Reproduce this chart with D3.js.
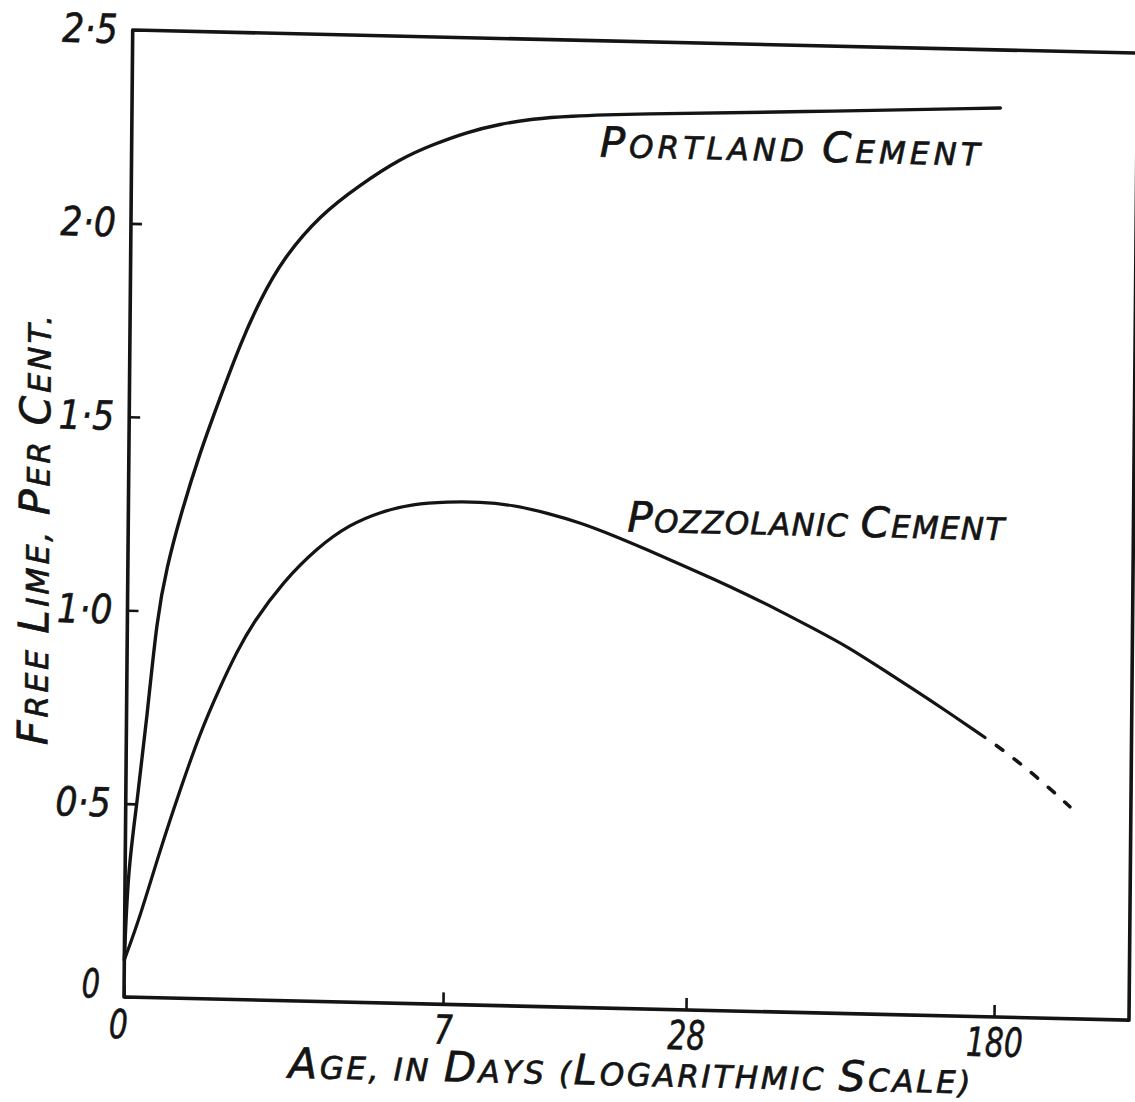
<!DOCTYPE html>
<html><head><meta charset="utf-8">
<script src="https://cdn.jsdelivr.net/npm/d3@7"></script>
<style>html,body{margin:0;padding:0;background:#fff;} svg{display:block;}</style>
</head><body>
<svg id="chart" width="1135" height="1102"></svg>
<script>
// ---------------- data ----------------
const ageTicks = [0, 7, 28, 180];
const limeTicks = [0, 0.5, 1.0, 1.5, 2.0, 2.5];
const limeTickLabels = ["0", "0·5", "1·0", "1·5", "2·0", "2·5"];

const portlandDays = [0, 0.019, 0.076, 0.143, 0.213, 0.29, 0.40, 0.59, 0.805, 1.05, 1.33, 1.70, 2.43, 3.44, 4.75, 6.13, 7.72, 9.38, 11.35, 13.8, 20.0, 53.4, 178];
const portlandLime = [0.096, 0.329, 0.502, 0.725, 0.985, 1.114, 1.244, 1.413, 1.554, 1.693, 1.810, 1.918, 2.033, 2.113, 2.183, 2.222, 2.256, 2.279, 2.294, 2.303, 2.313, 2.328, 2.350];

const pozzDays = [0, 0.105, 0.254, 0.423, 0.616, 0.836, 1.047, 1.268, 1.75, 2.43, 3.24, 4.16, 5.39, 7.0, 8.5, 10.3, 12.6, 15.2, 18.3, 22.1, 26.5, 32.3, 39.8, 48.6, 59.5, 74.1, 89.2, 108.9, 133.7, 168];
const pozzLime = [0.096, 0.208, 0.382, 0.538, 0.687, 0.807, 0.900, 0.975, 1.082, 1.173, 1.235, 1.269, 1.292, 1.299, 1.301, 1.295, 1.276, 1.253, 1.222, 1.187, 1.152, 1.116, 1.077, 1.037, 0.994, 0.946, 0.896, 0.843, 0.787, 0.722];

const pozzExtDays = [168, 187, 230, 280];
const pozzExtLime = [0.722, 0.691, 0.623, 0.548];

const seriesLabels = ["Portland Cement", "Pozzolanic Cement"];
const xTitle = "Age, in Days (Logarithmic Scale)";
const yTitle = "Free Lime, Per Cent.";

// ---------------- layout ----------------
const INK = "#141414";
const FONT = "'DejaVu Sans', 'Liberation Sans', sans-serif";
const svg = d3.select("#chart");

const x = d3.scaleSymlog().domain(ageTicks).range([124, 443, 686, 994]);
const y = d3.scaleLinear().domain([0, 2.5]).range([997, 30]);
const frameRight = 1129;

// slight skew, like the scanned page
const g = svg.append("g")
  .attr("transform", "translate(124,997) matrix(1,0.023,-0.009,1,0,0) translate(-124,-997)");

// frame
g.append("path")
  .attr("d", `M${x(0)},${y(0)} V${y(2.5)} H${frameRight} V${y(0)} Z`)
  .attr("fill", "none").attr("stroke", INK).attr("stroke-width", 3.6)
  .attr("stroke-linejoin", "round");

// x axis
const xAxis = d3.axisBottom(x).tickValues(ageTicks).tickSizeInner(-12).tickSizeOuter(0)
  .tickPadding(11).tickFormat(d3.format("d"));
const gx = g.append("g").attr("transform", `translate(0,${y(0)})`).call(xAxis);
gx.select(".domain").remove();
gx.selectAll(".tick line").attr("stroke", INK).attr("stroke-width", 2.6);
gx.selectAll(".tick text")
  .attr("fill", INK).attr("stroke", INK).attr("stroke-width", 0.6)
  .attr("font-family", FONT).attr("font-style", "italic").attr("font-size", 40)
  .attr("lengthAdjust", "spacingAndGlyphs")
  .attr("textLength", function () { return this.textContent.length * 19; })
  .attr("transform", d => d === 0 ? "translate(-6,2)" : null);

// y axis
const yAxis = d3.axisLeft(y).tickValues(limeTicks).tickSizeInner(-11).tickSizeOuter(0)
  .tickPadding(15).tickFormat((d, i) => limeTickLabels[i]);
const gy = g.append("g").attr("transform", `translate(${x(0)},0)`).call(yAxis);
gy.select(".domain").remove();
gy.selectAll(".tick line").attr("stroke", INK).attr("stroke-width", 2.6);
gy.selectAll(".tick text")
  .attr("fill", INK).attr("stroke", INK).attr("stroke-width", 0.6)
  .attr("font-family", FONT).attr("font-style", "italic").attr("font-size", 40)
  .attr("lengthAdjust", "spacingAndGlyphs")
  .attr("textLength", function () { return this.textContent.length * 18.5; })
  .attr("transform", d => d === 0 ? "translate(-9,-12)" : null);

// curves
const line = d3.line().x(d => x(d[0])).y(d => y(d[1])).curve(d3.curveBasis);
g.append("path").datum(d3.zip(portlandDays, portlandLime))
  .attr("d", line).attr("fill", "none").attr("stroke", INK).attr("stroke-width", 3.4)
  .attr("stroke-linecap", "round");
g.append("path").datum(d3.zip(pozzDays, pozzLime))
  .attr("d", line).attr("fill", "none").attr("stroke", INK).attr("stroke-width", 3.2)
  .attr("stroke-linecap", "round");
g.append("path").datum(d3.zip(pozzExtDays, pozzExtLime))
  .attr("d", line).attr("fill", "none").attr("stroke", INK).attr("stroke-width", 3.6)
  .attr("stroke-linecap", "round")
  .attr("stroke-dasharray", "8,14").attr("stroke-dashoffset", 8);

// hand-lettered small-caps labels
function capsText(sel, str, big, small) {
  const groups = [];
  for (const ch of str) {
    const isBig = ch >= "A" && ch <= "Z";
    const last = groups[groups.length - 1];
    if (last && last.big === isBig) last.s += ch; else groups.push({ big: isBig, s: ch });
  }
  sel.selectAll("tspan").data(groups).join("tspan")
    .attr("font-size", d => d.big ? big : small)
    .text(d => d.s.toUpperCase());
  return sel;
}
function label(xp, yp, str, len, rot) {
  const t = g.append("text")
    .attr("x", xp).attr("y", yp)
    .attr("fill", INK).attr("stroke", INK).attr("stroke-width", 0.7)
    .attr("font-family", FONT).attr("font-style", "italic")
    .attr("textLength", len).attr("lengthAdjust", "spacing");
  if (rot) t.attr("transform", `rotate(${rot},${xp},${yp})`);
  capsText(t, str, 42, 31);
  return t;
}
label(592, 146, seriesLabels[0], 380);
label(623, 520, seriesLabels[1], 377);
label(289, 1074, xTitle, 682);
label(45, 747, yTitle, 430, -90);
</script>
</body></html>
